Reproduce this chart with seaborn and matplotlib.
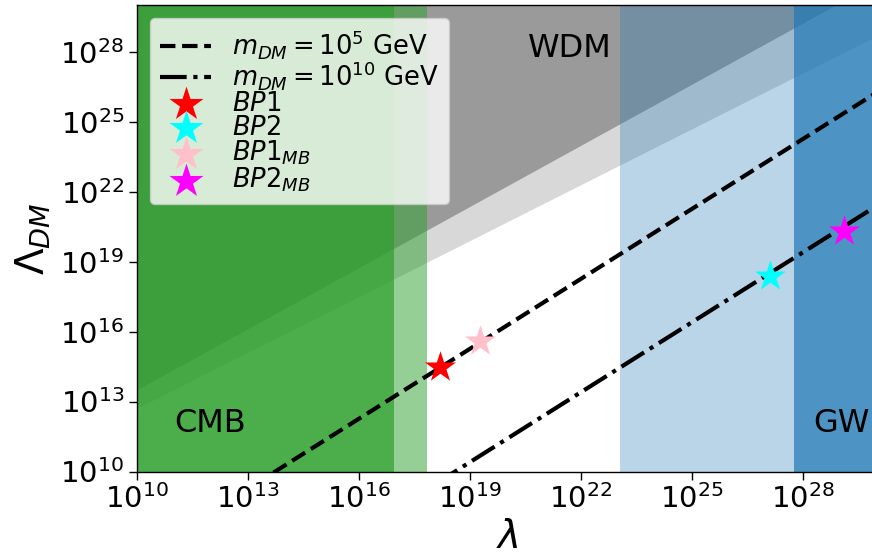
import matplotlib
matplotlib.use("Agg")
import matplotlib.pyplot as plt
import seaborn as sns
from matplotlib.ticker import FixedLocator, NullLocator

# axis ranges and ticks
LAM_RANGE = [1e10, 1e30]
LDM_RANGE = [1e10, 1e30]
TICKS = [1e10, 1e13, 1e16, 1e19, 1e22, 1e25, 1e28]

# excluded regions, edges
cmb_edges = [10**17.84, 10**16.96]      # light / dark band end
gw_edges = [10**23.06, 10**27.76]       # light / dark band start
wdm_lam = [1e10, 1e30]
wdm_low_light = [10**12.71, 10**28.69]
wdm_low_dark = [10**13.50, 10**30.98]

# Lambda_DM(lambda) for the two DM masses
line_lam = [1e10, 1e30]
line_m5 = [10**6.26, 10**26.26]
line_m10 = [10**1.40, 10**21.40]
line_labels = [r"$m_{DM} = 10^{5}$ GeV", r"$m_{DM} = 10^{10}$ GeV"]

# benchmark points
bp_names = ["$BP1$", "$BP2$", "$BP1_{MB}$", "$BP2_{MB}$"]
bp_lam = [10**18.18, 10**27.10, 10**19.28, 10**29.12]
bp_ldm = [10**14.47, 10**18.37, 10**15.58, 10**20.33]
bp_colors = ["red", "cyan", "pink", "magenta"]

sns.set_style("ticks")
plt.rcParams["font.family"] = ["DejaVu Sans"]
plt.rcParams["mathtext.fontset"] = "dejavusans"
plt.rcParams["text.color"] = "black"
plt.rcParams["axes.labelcolor"] = "black"

fig = plt.figure(figsize=(8.72, 5.54), dpi=100)
ax = fig.add_axes([0.1568, 0.1489, 0.849, 0.842])
ax.set_xscale("log")
ax.set_yscale("log")

# WDM (grey, two layers)
ax.fill_between(wdm_lam, wdm_low_light, LDM_RANGE[1], color="gray", alpha=0.3, lw=0, zorder=1)
ax.fill_between(wdm_lam, wdm_low_dark, LDM_RANGE[1], color="gray", alpha=0.7, lw=0, zorder=1)

# CMB (green) and GW (blue)
ax.axvspan(LAM_RANGE[0], cmb_edges[0], color="tab:green", alpha=0.5, lw=0, zorder=2)
ax.axvspan(LAM_RANGE[0], cmb_edges[1], color="tab:green", alpha=0.7, lw=0, zorder=2)
ax.axvspan(gw_edges[0], LAM_RANGE[1], color="tab:blue", alpha=0.3, lw=0, zorder=2)
ax.axvspan(gw_edges[1], LAM_RANGE[1], color="tab:blue", alpha=0.7, lw=0, zorder=2)

sns.lineplot(x=line_lam, y=line_m5, color="black", lw=3, linestyle="--",
             label=line_labels[0], ax=ax, zorder=3)
sns.lineplot(x=line_lam, y=line_m10, color="black", lw=3, linestyle="-.",
             label=line_labels[1], ax=ax, zorder=3)

for name, x, y, c in zip(bp_names, bp_lam, bp_ldm, bp_colors):
    sns.scatterplot(x=[x], y=[y], marker="*", s=550, color=c, linewidth=0,
                    label=name, ax=ax, zorder=4)

ax.text(10**21.71, 10**28.13, "WDM", fontsize=23, ha="center", va="center", zorder=5)
ax.text(10**11.99, 10**12.07, "CMB", fontsize=23, ha="center", va="center", zorder=5)
ax.text(10**29.03, 10**12.07, "GW", fontsize=23, ha="center", va="center", zorder=5)

ax.set_xlim(LAM_RANGE)
ax.set_ylim(LDM_RANGE)
ax.xaxis.set_major_locator(FixedLocator(TICKS))
ax.yaxis.set_major_locator(FixedLocator(TICKS))
ax.xaxis.set_minor_locator(NullLocator())
ax.yaxis.set_minor_locator(NullLocator())
ax.tick_params(labelsize=21, length=6, width=1, direction="out", pad=3, colors="black")
for s in ax.spines.values():
    s.set_color("black")
    s.set_linewidth(1.0)
    s.set_zorder(6)

ax.set_xlabel(r"$\lambda$", fontsize=28, labelpad=3)
ax.set_ylabel(r"$\Lambda_{DM}$", fontsize=28, labelpad=5)

ax.legend(loc="upper left", fontsize=18.5, handlelength=2.0, labelspacing=-0.07,
          handletextpad=0.8, borderpad=0.4, framealpha=0.8, markerscale=1.1)

fig.savefig("out.png", dpi=100)
